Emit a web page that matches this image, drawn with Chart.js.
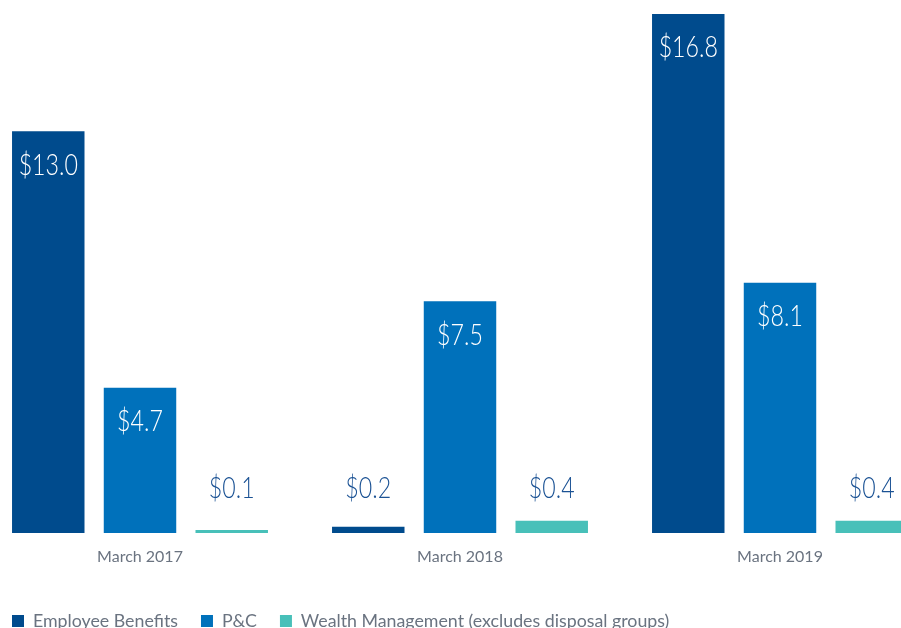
<!DOCTYPE html>
<html>
<head>
<meta charset="utf-8">
<script src="https://cdn.jsdelivr.net/npm/chart.js@4.4.1/dist/chart.umd.min.js"></script>
<style>
  html, body { margin: 0; padding: 0; background: #fff; overflow: hidden; }
  #wrap { position: absolute; left: -20px; top: 0; width: 960px; height: 640px; }
</style>
</head>
<body>
<div id="wrap"><canvas id="myChart" width="960" height="640"></canvas></div>
<script>
const categories = ["March 2017", "March 2018", "March 2019"];
const employeeBenefits = [13.0, 0.2, 16.8];
const pnc = [4.7, 7.5, 8.1];
const wealthMgmt = [0.1, 0.4, 0.4];
const seriesNames = ["Employee Benefits", "P&C", "Wealth Management (excludes disposal groups)"];

const FONT = "Lato, 'Open Sans', sans-serif";

// value labels: white inside tall bars, blue above the small ones
const valueLabels = {
  id: "valueLabels",
  afterDatasetsDraw(chart) {
    const ctx = chart.ctx;
    ctx.save();
    ctx.font = "300 29px " + FONT;
    ctx.textAlign = "center";
    ctx.textBaseline = "middle";
    chart.data.datasets.forEach((ds, i) => {
      chart.getDatasetMeta(i).data.forEach((bar, j) => {
        const v = ds.data[j];
        const txt = "$" + v.toFixed(1);
        const y = v >= 1 ? bar.y + 34 : bar.base - 44;
        ctx.fillStyle = v >= 1 ? "#ffffff" : "#1b5294";
        // the original face is narrow, squeeze Lato a bit
        ctx.save();
        ctx.translate(bar.x, y);
        ctx.scale(0.8, 1);
        ctx.fillText(txt, 0, 0);
        ctx.restore();
      });
    });
    ctx.restore();
  },
};

const legendShift = {
  id: "legendShift",
  afterLayout(chart) {
    chart.legend.left += 9;
    chart.legend.right += 9;
  },
};

new Chart(document.getElementById("myChart"), {
  type: "bar",
  data: {
    labels: categories,
    datasets: [
      { label: seriesNames[0], data: employeeBenefits, backgroundColor: "#004b8d" },
      { label: seriesNames[1], data: pnc, backgroundColor: "#0071bb" },
      { label: seriesNames[2], data: wealthMgmt, backgroundColor: "#48c0b9" },
    ],
  },
  options: {
    responsive: false,
    animation: false,
    devicePixelRatio: 1,
    barPercentage: 0.79,
    categoryPercentage: 0.86,
    layout: { padding: 0 },
    plugins: {
      tooltip: { enabled: false },
      legend: {
        position: "bottom",
        align: "start",
        labels: {
          boxWidth: 12,
          boxHeight: 12,
          padding: 23,
          color: "#6a7380",
          font: { family: FONT, size: 17.8 },
        },
      },
    },
    scales: {
      x: {
        grid: { display: false },
        border: { display: false },
        ticks: { color: "#6a7380", font: { family: FONT, size: 16 }, padding: 6 },
        afterFit(scale) { scale.height += 17; },
      },
      y: { display: false, min: 0, max: 17.25 },
    },
  },
  plugins: [valueLabels, legendShift],
});
</script>
</body>
</html>
